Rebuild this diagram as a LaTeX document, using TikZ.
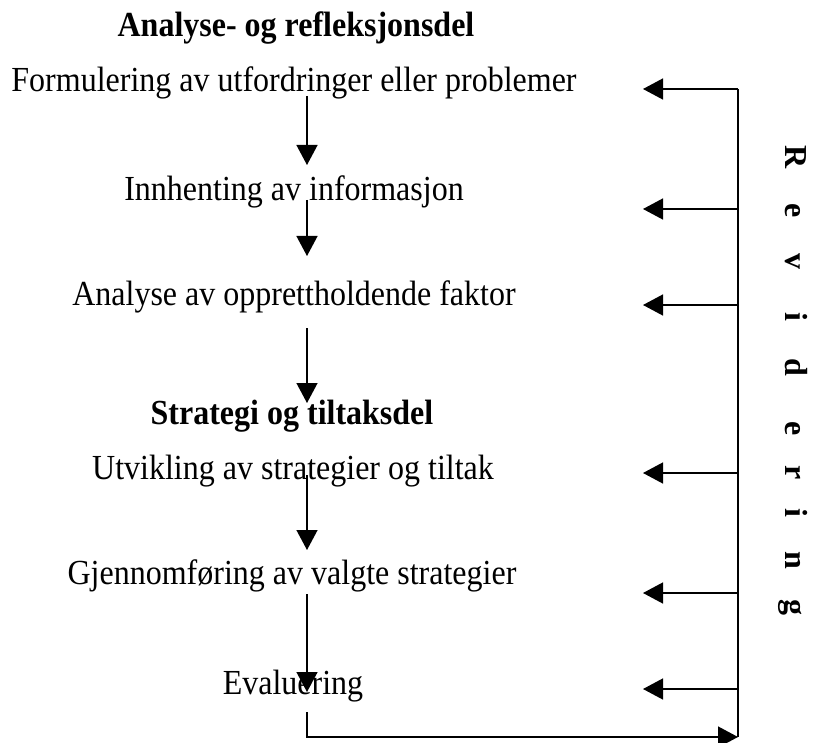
\documentclass[tikz,border=0pt]{standalone}
\usepackage{graphicx}
\usepackage{fontspec}
\setmainfont{Liberation Serif}
\usetikzlibrary{arrows.meta}
\newcommand{\tall}[1]{\scalebox{1}[1.1]{#1}}
\begin{document}
\begin{tikzpicture}[x=1pt,y=-1pt,
  txt/.style={font=\fontsize{32}{38}\selectfont, inner sep=0pt, anchor=base},
  hd/.style={font=\fontsize{32}{38}\selectfont\bfseries, inner sep=0pt, anchor=base},
  ltr/.style={font=\fontsize{32}{38}\selectfont\bfseries, rotate=-90, inner sep=0pt, text height=0.7em, text depth=0.2em},
  con/.style={line width=1.4pt},
  arr/.style={con, -{Triangle[length=20pt,width=21pt]}},
]
\useasboundingbox (0,0) rectangle (813,743);

% texts
\node[hd]  (title) at (296,37)  {\tall{Analyse- og refleksjonsdel}};
\node[txt] (form)  at (294,92)  {\tall{Formulering av utfordringer eller problemer}};
\node[txt] (innh)  at (294,201) {\tall{Innhenting av informasjon}};
\node[txt] (anal)  at (294,305) {\tall{Analyse av opprettholdende faktor}};
\node[hd]  (strat) at (292,424) {\tall{Strategi og tiltaksdel}};
\node[txt] (utv)   at (293,479) {\tall{Utvikling av strategier og tiltak}};
\node[txt] (gjen)  at (292,584) {\tall{Gjennomføring av valgte strategier}};
\node[txt] (eval)  at (293,694) {\tall{Evaluering}};

% down arrows
\coordinate (d1s) at (307,96);  \coordinate (d1e) at (307,165);
\coordinate (d2s) at (307,200); \coordinate (d2e) at (307,256);
\coordinate (d3s) at (307,328); \coordinate (d3e) at (307,403);
\coordinate (d4s) at (307,475); \coordinate (d4e) at (307,550);
\coordinate (d5s) at (307,594); \coordinate (d5e) at (307,692);
\draw[arr] (d1s) -- (d1e);
\draw[arr] (d2s) -- (d2e);
\draw[arr] (d3s) -- (d3e);
\draw[arr] (d4s) -- (d4e);
\draw[arr] (d5s) -- (d5e);

% feedback bar
\coordinate (b1) at (738,89);
\coordinate (b2) at (738,209);
\coordinate (b3) at (738,305);
\coordinate (b4) at (738,473);
\coordinate (b5) at (738,593);
\coordinate (b6) at (738,689);
\coordinate (bb) at (738,737);
\coordinate (r1) at (643,89);
\coordinate (r2) at (643,209);
\coordinate (r3) at (643,305);
\coordinate (r4) at (643,473);
\coordinate (r5) at (643,593);
\coordinate (r6) at (643,689);
\draw[con] (b1) -- (bb);
\draw[arr] (b1) -- (r1);
\draw[arr] (b2) -- (r2);
\draw[arr] (b3) -- (r3);
\draw[arr] (b4) -- (r4);
\draw[arr] (b5) -- (r5);
\draw[arr] (b6) -- (r6);
\coordinate (e1) at (307,712);
\draw[arr] (e1) |- (bb);

% Revidering
\foreach \l/\yy [count=\i] in {R/157,e/211,v/262,i/317,d/367,e/429,r/473,i/513,n/560,g/607}
  \node[ltr] (rv\i) at (788,\yy) {\l};
\end{tikzpicture}
\end{document}
